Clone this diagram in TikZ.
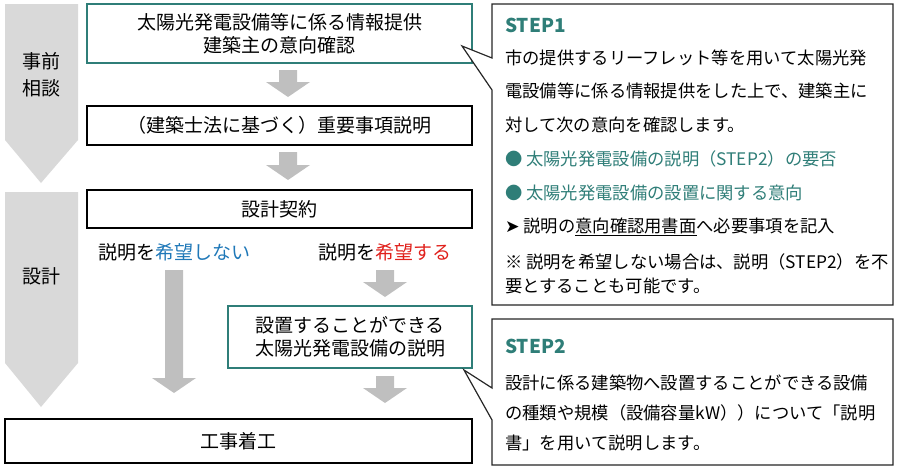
\documentclass[tikz,border=0pt]{standalone}
\usepackage{fontspec}
\setmainfont{Noto Sans CJK JP}
\newfontfamily\symf{DejaVu Sans}
\definecolor{teal1}{HTML}{2F7E78}
\definecolor{band}{HTML}{D9D9D9}
\definecolor{garr}{HTML}{BFBFBF}
\definecolor{blu}{HTML}{1F78B8}
\definecolor{rd}{HTML}{E0201B}
\newcommand\garrow[3]{\fill[garr] (#1-9,#2) -- (#1+9,#2) -- (#1+9,#3-15) -- (#1+22,#3-15) -- (#1,#3) -- (#1-22,#3-15) -- (#1-9,#3-15) -- cycle;}
\tikzset{
 fbox/.style={draw=black,line width=1.6pt,fill=white},
 tbox/.style={draw=teal1,line width=2.2pt,fill=white},
 cbox/.style={draw=black!85,line width=1.2pt,fill=white},
 txt/.style={font=\fontsize{19}{23}\selectfont,align=center},
 stxt/.style={font=\fontsize{17.3}{20}\selectfont,anchor=west,inner sep=0},
}
\begin{document}
\begin{tikzpicture}[x=1pt,y=-1pt]
\useasboundingbox (0,0) rectangle (900,471);
% bands
\fill[band] (5,4) -- (78,4) -- (78,140) -- (41,183) -- (5,140) -- cycle;
\fill[band] (5,192) -- (78,192) -- (78,363) -- (41,407) -- (5,363) -- cycle;
\node[txt,font=\fontsize{19}{27}\selectfont] (l1) at (41,75) {事前\\相談};
\node[txt,font=\fontsize{19}{27}\selectfont] (l2) at (41,276) {設計};
% boxes
\draw[tbox] (87,4) rectangle (472,63);
\node[txt] (b1) at (279.5,33.5) {太陽光発電設備等に係る情報提供\\建築主の意向確認};
\draw[fbox] (87,106) rectangle (472,145);
\node[txt] (b2) at (279.5,125.5) {（建築士法に基づく）重要事項説明};
\draw[fbox] (87,190) rectangle (472,228);
\node[txt] (b3) at (279.5,209) {設計契約};
\draw[tbox] (228,306) rectangle (472,368);
\node[txt] (b4) at (350,337) {設置することができる\\太陽光発電設備の説明};
\draw[fbox] (5,419) rectangle (472,463);
\node[txt] (b5) at (238.5,441) {工事着工};
\node[txt] (n1) at (174,252) {説明を\textcolor{blu}{希望しない}};
\node[txt] (n2) at (385,252) {説明を\textcolor{rd}{希望する}};
% arrows
\garrow{288}{70}{97}
\garrow{288}{152}{180}
\garrow{385}{270}{297}
\garrow{174}{270}{393}
\garrow{385}{376}{403}
% callout 1
\draw[cbox] (492,58) -- (462,46) -- (492,90) -- (492,305) -- (893,305) -- (893,4) -- (492,4) -- cycle;
\node[stxt,text=teal1,font=\fontsize{19}{20}\selectfont\bfseries] (s1) at (505,25) {STEP1};
\node[stxt] (t1) at (505,58) {市の提供するリーフレット等を用いて太陽光発};
\node[stxt] (t2) at (505,91) {電設備等に係る情報提供をした上で、建築主に};
\node[stxt] (t3) at (505,125) {対して次の意向を確認します。};
\node[stxt,text=teal1] (t4) at (505,159) {● 太陽光発電設備の説明（STEP2）の要否};
\node[stxt,text=teal1] (t5) at (505,193) {● 太陽光発電設備の設置に関する意向};
\node[stxt] (t6) at (505,227) {{\symf ➤} 説明の\underline{意向確認用書面}へ必要事項を記入};
\node[stxt,align=left,font=\fontsize{17.3}{24}\selectfont] (t7) at (505,274) {※ 説明を希望しない場合は、説明（STEP2）を不\\要とすることも可能です。};
% callout 2
\draw[cbox] (492,388) -- (464,370) -- (492,420) -- (492,465) -- (893,465) -- (893,319) -- (492,319) -- cycle;
\node[stxt,text=teal1,font=\fontsize{19}{20}\selectfont\bfseries] (s2) at (505,346) {STEP2};
\node[stxt] (u1) at (505,383) {設計に係る建築物へ設置することができる設備};
\node[stxt] (u2) at (505,413) {の種類や規模（設備容量kW））について「説明};
\node[stxt] (u3) at (505,443) {書」を用いて説明します。};
\end{tikzpicture}
\end{document}
